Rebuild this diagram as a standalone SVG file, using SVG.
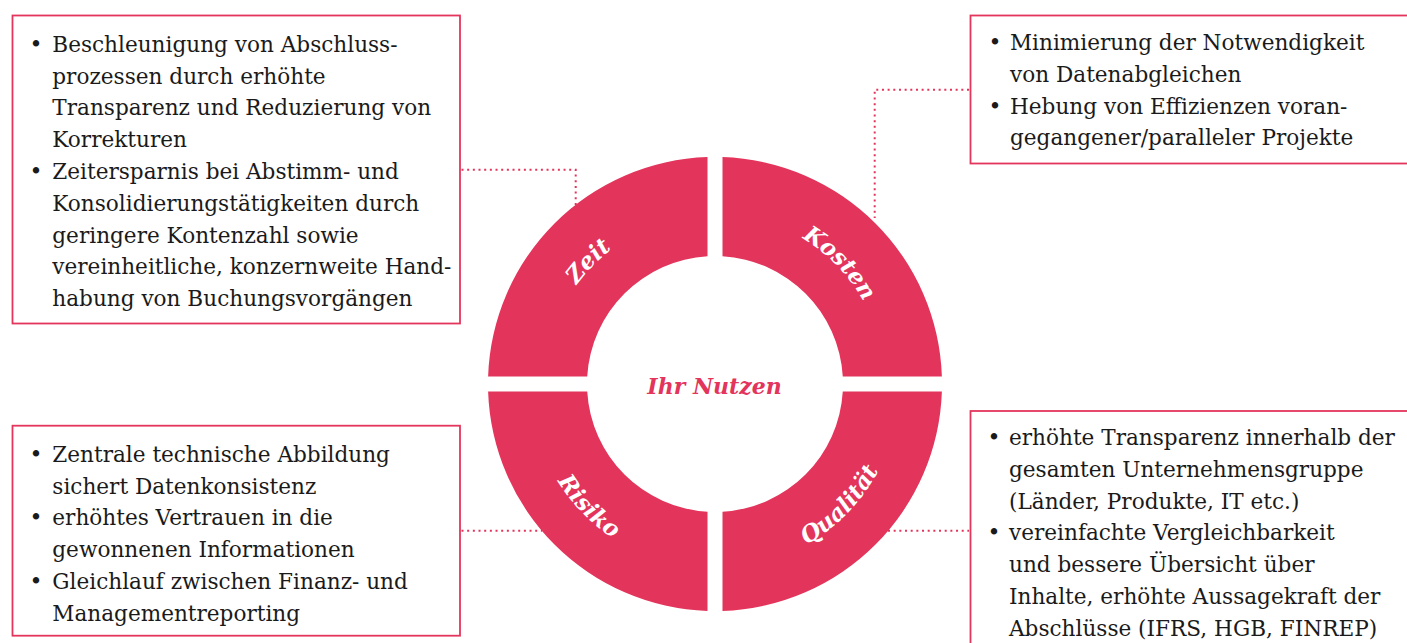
<svg xmlns="http://www.w3.org/2000/svg" width="1407" height="643" viewBox="0 0 1407 643">
<style>
.box{fill:#ffffff;stroke:#E4365C;stroke-width:1.8}
.seg{fill:#E3345B}
.t{font-family:"DejaVu Serif","Liberation Serif",serif;font-size:21.6px;fill:#1a1a1a}
.b{font-family:"DejaVu Serif","Liberation Serif",serif;font-size:22px;fill:#1a1a1a;text-anchor:middle}
.lbl{font-family:"DejaVu Serif","Liberation Serif",serif;font-size:23px;font-weight:bold;font-style:italic;fill:#ffffff;text-anchor:middle}
.ctr{font-family:"DejaVu Serif","Liberation Serif",serif;font-size:22px;font-weight:bold;font-style:italic;fill:#E3345B;text-anchor:middle}
.dot{fill:none;stroke:#E3345B;stroke-width:2;stroke-dasharray:2 3.67}
</style>
<defs>
<path id="arcTop" d="M545,384 A170,170 0 0 1 885,384"/>
<path id="arcBot" d="M530,384 A185,185 0 0 0 900,384"/>
</defs>
<rect width="1407" height="643" fill="#ffffff"/>

<g id="connectors">
<polyline class="dot" points="461.5,169.7 575.7,169.7 575.7,205"/>
<polyline class="dot" points="969,89.7 874.7,89.7 874.7,218"/>
<polyline class="dot" points="461.5,530.7 542,530.7"/>
<polyline class="dot" points="888,530.7 969,530.7"/>
</g>

<g id="ring">
<g id="seg-zeit"><path class="seg" d="M707.5,157.12 L707.5,256.22 A128,128 0 0 0 587.22,376.5 L488.12,376.5 A227,227 0 0 1 707.5,157.12 Z"/>
<text class="lbl"><textPath href="#arcTop" startOffset="24.5%">Zeit</textPath></text></g>
<g id="seg-kosten"><path class="seg" d="M722.5,157.12 A227,227 0 0 1 941.88,376.5 L842.78,376.5 A128,128 0 0 0 722.5,256.22 Z"/>
<text class="lbl"><textPath href="#arcTop" startOffset="75.5%">Kosten</textPath></text></g>
<g id="seg-risiko"><path class="seg" d="M488.12,391.5 L587.22,391.5 A128,128 0 0 0 707.5,511.78 L707.5,610.88 A227,227 0 0 1 488.12,391.5 Z"/>
<text class="lbl"><textPath href="#arcBot" startOffset="24.5%">Risiko</textPath></text></g>
<g id="seg-qualitaet"><path class="seg" d="M722.5,610.88 L722.5,511.78 A128,128 0 0 0 842.78,391.5 L941.88,391.5 A227,227 0 0 1 722.5,610.88 Z"/>
<text class="lbl"><textPath href="#arcBot" startOffset="75.5%">Qualität</textPath></text></g>
<g id="center"><text class="ctr" x="714.5" y="394">Ihr Nutzen</text></g>
</g>

<g id="box-zeit">
<rect class="box" x="12.5" y="15.5" width="447.5" height="308"/>
<text class="b" x="36" y="51.7">•</text>
<text class="t" x="52.3" y="51.7">Beschleunigung von Abschluss-</text>
<text class="t" x="52.3" y="83.5">prozessen durch erhöhte</text>
<text class="t" x="52.3" y="115.3">Transparenz und Reduzierung von</text>
<text class="t" x="52.3" y="147.1">Korrekturen</text>
<text class="b" x="36" y="178.9">•</text>
<text class="t" x="52.3" y="178.9">Zeitersparnis bei Abstimm- und</text>
<text class="t" x="52.3" y="210.7">Konsolidierungstätigkeiten durch</text>
<text class="t" x="52.3" y="242.5">geringere Kontenzahl sowie</text>
<text class="t" x="52.3" y="274.3">vereinheitliche, konzernweite Hand-</text>
<text class="t" x="52.3" y="306.1">habung von Buchungsvorgängen</text>
</g>

<g id="box-kosten">
<rect class="box" x="970.5" y="15.5" width="440" height="148"/>
<text class="b" x="995" y="50">•</text>
<text class="t" x="1010" y="50">Minimierung der Notwendigkeit</text>
<text class="t" x="1010" y="81.8">von Datenabgleichen</text>
<text class="b" x="995" y="113.6">•</text>
<text class="t" x="1010" y="113.6">Hebung von Effizienzen voran-</text>
<text class="t" x="1010" y="145.4">gegangener/paralleler Projekte</text>
</g>

<g id="box-risiko">
<rect class="box" x="12.5" y="425.7" width="447.5" height="210"/>
<text class="b" x="36" y="461.7">•</text>
<text class="t" x="52.3" y="461.7">Zentrale technische Abbildung</text>
<text class="t" x="52.3" y="493.5">sichert Datenkonsistenz</text>
<text class="b" x="36" y="525.3">•</text>
<text class="t" x="52.3" y="525.3">erhöhtes Vertrauen in die</text>
<text class="t" x="52.3" y="557.1">gewonnenen Informationen</text>
<text class="b" x="36" y="588.9">•</text>
<text class="t" x="52.3" y="588.9">Gleichlauf zwischen Finanz- und</text>
<text class="t" x="52.3" y="620.7">Managementreporting</text>
</g>

<g id="box-qualitaet">
<rect class="box" x="970.5" y="411" width="440" height="245"/>
<text class="b" x="994" y="445">•</text>
<text class="t" x="1009" y="445">erhöhte Transparenz innerhalb der</text>
<text class="t" x="1009" y="476.8">gesamten Unternehmensgruppe</text>
<text class="t" x="1009" y="508.6">(Länder, Produkte, IT etc.)</text>
<text class="b" x="994" y="540.4">•</text>
<text class="t" x="1009" y="540.4">vereinfachte Vergleichbarkeit</text>
<text class="t" x="1009" y="572.2">und bessere Übersicht über</text>
<text class="t" x="1009" y="604">Inhalte, erhöhte Aussagekraft der</text>
<text class="t" x="1009" y="635.8">Abschlüsse (IFRS, HGB, FINREP)</text>
</g>
</svg>
